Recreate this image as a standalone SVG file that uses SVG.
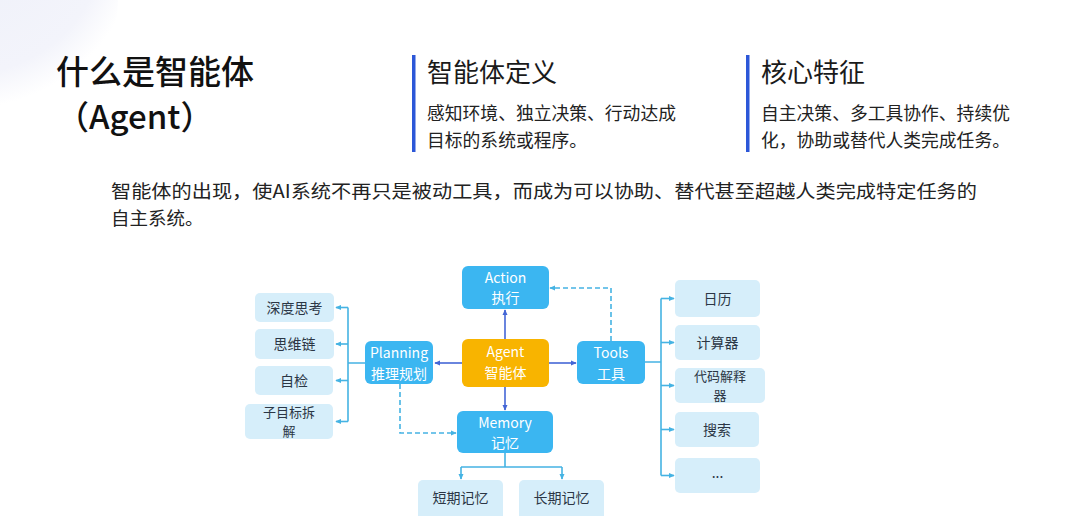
<svg xmlns="http://www.w3.org/2000/svg" width="1080" height="516" viewBox="0 0 1080 516">
<defs>
<radialGradient id="blob" cx="0.3" cy="0.2" r="0.8">
<stop offset="0" stop-color="#eef0f9"/>
<stop offset="0.8" stop-color="#f3f4fb"/>
<stop offset="1" stop-color="#ffffff"/>
</radialGradient>
<marker id="ad" viewBox="0 0 8 8" refX="7" refY="4" markerWidth="6" markerHeight="6" orient="auto" markerUnits="userSpaceOnUse">
<path d="M0,0.5 L8,4 L0,7.5 Z" fill="#4466d6"/>
</marker>
<marker id="al" viewBox="0 0 8 8" refX="7" refY="4" markerWidth="6" markerHeight="6" orient="auto" markerUnits="userSpaceOnUse">
<path d="M0,0.5 L8,4 L0,7.5 Z" fill="#45b3e3"/>
</marker>
</defs>
<style>
text{font-family:"Noto Sans CJK SC","Noto Sans",sans-serif;}
.title{font-size:33px;fill:#111;font-weight:500;}
.head{font-size:26px;fill:#1a1a1a;}
.body{font-size:17.8px;fill:#222;}
.sum{font-size:18.5px;fill:#222;}
.bar{fill:#2c57d8;}
.node{fill:#3bb6f1;}
.core{fill:#f8b400;}
.sub{fill:#d6eefa;}
.nt{font-size:14px;fill:#fff;text-anchor:middle;}
.st{font-size:14px;fill:#2b3645;text-anchor:middle;}
.st2{font-size:13px;fill:#2b3645;text-anchor:middle;}
.cd{stroke:#4466d6;stroke-width:1.6;fill:none;}
.cl{stroke:#45b3e3;stroke-width:1.6;fill:none;}
.dash{stroke-dasharray:5 3;}
</style>
<rect x="0" y="0" width="1080" height="516" fill="#ffffff"/>
<circle cx="10" cy="0" r="108" fill="url(#blob)"/>

<g id="header">
<text class="title" x="56" y="84">什么是智能体</text>
<text class="title" x="56" y="129">（Agent）</text>
<rect class="bar" x="412" y="55" width="3.5" height="97"/>
<text class="head" x="427" y="82">智能体定义</text>
<text class="body" x="427" y="120">感知环境、独立决策、行动达成</text>
<text class="body" x="427" y="147">目标的系统或程序。</text>
<rect class="bar" x="746" y="55" width="3.5" height="97"/>
<text class="head" x="761" y="82">核心特征</text>
<text class="body" x="761" y="120">自主决策、多工具协作、持续优</text>
<text class="body" x="761" y="147">化，协助或替代人类完成任务。</text>
<text class="sum" x="111" y="198" textLength="866" lengthAdjust="spacingAndGlyphs">智能体的出现，使AI系统不再只是被动工具，而成为可以协助、替代甚至超越人类完成特定任务的</text>
<text class="sum" x="111" y="225">自主系统。</text>
</g>

<g id="connectors">
<path class="cd" d="M505 339 V310" marker-end="url(#ad)"/>
<path class="cd" d="M505 387 V410" marker-end="url(#ad)"/>
<path class="cd" d="M462 363 H435" marker-end="url(#ad)"/>
<path class="cd" d="M549 363 H576" marker-end="url(#ad)"/>
<path class="cl" d="M365 363 H348 M348 307.5 V421.5"/>
<path class="cl" d="M348 307.5 H336" marker-end="url(#al)"/>
<path class="cl" d="M348 344 H336" marker-end="url(#al)"/>
<path class="cl" d="M348 380.5 H336" marker-end="url(#al)"/>
<path class="cl" d="M348 421.5 H336" marker-end="url(#al)"/>
<path class="cl" d="M645 362 H661 M661 298.5 V475.5"/>
<path class="cl" d="M661 298.5 H674" marker-end="url(#al)"/>
<path class="cl" d="M661 342.5 H674" marker-end="url(#al)"/>
<path class="cl" d="M661 385.5 H674" marker-end="url(#al)"/>
<path class="cl" d="M661 429.5 H674" marker-end="url(#al)"/>
<path class="cl" d="M661 475.5 H674" marker-end="url(#al)"/>
<path class="cl" d="M505 453 V467 M461 467 H562"/>
<path class="cl" d="M461 467 V479" marker-end="url(#al)"/>
<path class="cl" d="M562 467 V479" marker-end="url(#al)"/>
<path class="cl dash" d="M400 384 V433 H456" marker-end="url(#al)"/>
<path class="cl dash" d="M611 341 V288 H550" marker-end="url(#al)"/>
</g>

<g id="action"><rect class="node" x="462" y="266" width="87" height="43" rx="6"/><text class="nt" x="505.5" y="282.5">Action</text><text class="nt" x="505.5" y="303">执行</text></g>
<g id="agent"><rect class="core" x="462" y="339" width="87" height="48" rx="6"/><text class="nt" x="505.5" y="357">Agent</text><text class="nt" x="505.5" y="377.5">智能体</text></g>
<g id="planning"><rect class="node" x="365" y="341" width="68" height="43" rx="6"/><text class="nt" x="399" y="358">Planning</text><text class="nt" x="399" y="378.5">推理规划</text></g>
<g id="tools"><rect class="node" x="577" y="341" width="68" height="43" rx="6"/><text class="nt" x="611" y="358">Tools</text><text class="nt" x="611" y="378.5">工具</text></g>
<g id="memory"><rect class="node" x="457" y="411" width="96" height="42" rx="6"/><text class="nt" x="505" y="427.5">Memory</text><text class="nt" x="505" y="448">记忆</text></g>

<g id="deep"><rect class="sub" x="255" y="293" width="79" height="29" rx="5"/><text class="st" x="294.5" y="312.5">深度思考</text></g>
<g id="cot"><rect class="sub" x="255" y="329" width="79" height="30" rx="5"/><text class="st" x="294.5" y="349">思维链</text></g>
<g id="selfcheck"><rect class="sub" x="255" y="366" width="78" height="29" rx="5"/><text class="st" x="294" y="385.5">自检</text></g>
<g id="subgoal"><rect class="sub" x="245" y="404" width="88" height="35" rx="5"/><text class="st2" x="289" y="417">子目标拆</text><text class="st2" x="289" y="436">解</text></g>

<g id="calendar"><rect class="sub" x="675" y="280" width="85" height="37" rx="5"/><text class="st" x="717.5" y="303.5">日历</text></g>
<g id="calculator"><rect class="sub" x="675" y="325" width="85" height="35" rx="5"/><text class="st" x="717.5" y="347.5">计算器</text></g>
<g id="interpreter"><rect class="sub" x="675" y="368" width="90" height="35" rx="5"/><text class="st2" x="720" y="381">代码解释</text><text class="st2" x="720" y="400">器</text></g>
<g id="search"><rect class="sub" x="675" y="412" width="84" height="35" rx="5"/><text class="st" x="717" y="434.5">搜索</text></g>
<g id="more"><rect class="sub" x="675" y="458" width="85" height="35" rx="5"/><text class="st" x="717.5" y="478">...</text></g>

<g id="shortterm"><rect class="sub" x="418" y="480" width="85" height="40" rx="5"/><text class="st" x="460.5" y="503">短期记忆</text></g>
<g id="longterm"><rect class="sub" x="519" y="480" width="85" height="40" rx="5"/><text class="st" x="561.5" y="503">长期记忆</text></g>
</svg>
